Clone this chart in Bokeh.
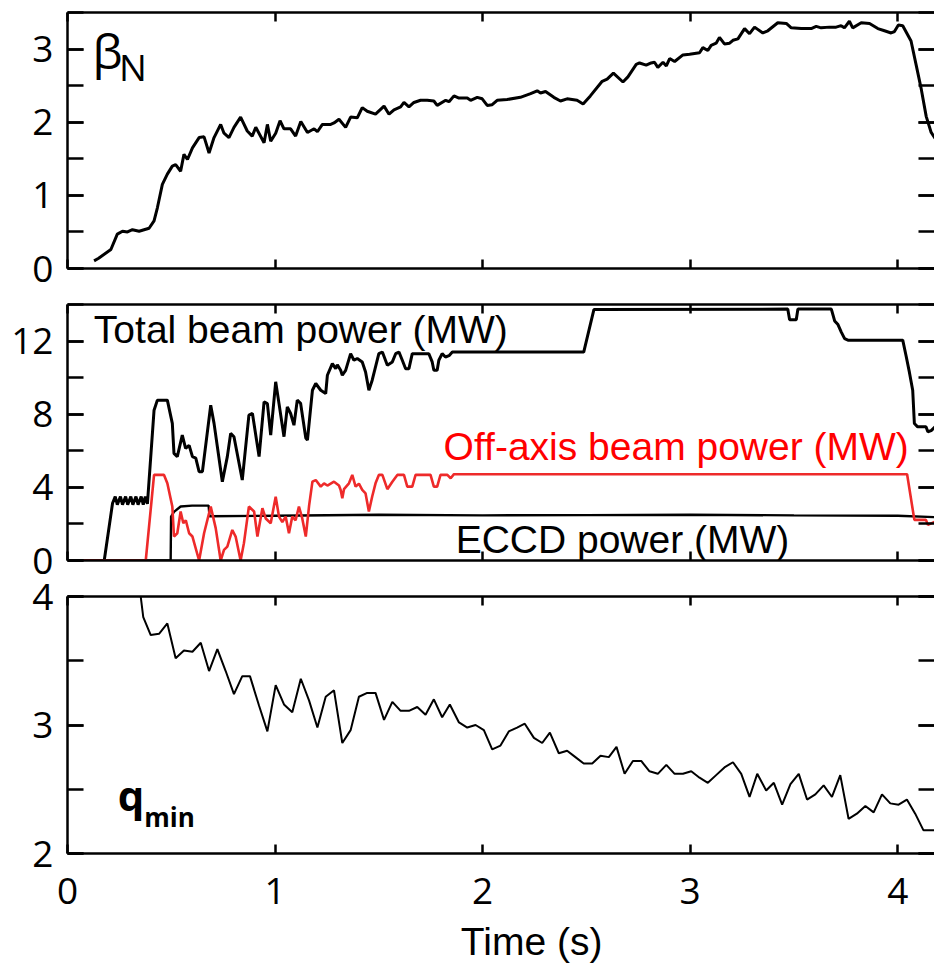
from bokeh.plotting import figure
from bokeh.models import LinearAxis, SingleIntervalTicker, Range1d, Label, CustomJSTickFormatter
from bokeh.layouts import column
from bokeh.embed import file_html
from bokeh.resources import INLINE

# ---------------- data ----------------
beta_t = [0.128, 0.15, 0.209, 0.24, 0.265, 0.289, 0.313, 0.345, 0.393, 0.417, 0.433, 0.457, 0.481, 0.505,
          0.521, 0.545, 0.561, 0.578, 0.602, 0.634, 0.658, 0.682, 0.706, 0.738, 0.754, 0.778, 0.802, 0.834,
          0.866, 0.890, 0.907, 0.947, 0.963, 0.979, 1.003, 1.024, 1.043, 1.075, 1.099, 1.124, 1.156, 1.188,
          1.204, 1.228, 1.268, 1.284, 1.308, 1.340, 1.364, 1.396, 1.420, 1.444, 1.484, 1.525, 1.549, 1.573,
          1.605, 1.621, 1.645, 1.669, 1.701, 1.733, 1.765, 1.781, 1.822, 1.838, 1.862, 1.886, 1.926, 1.942,
          1.974, 1.998, 2.022, 2.046, 2.070, 2.118, 2.182, 2.231, 2.263, 2.279, 2.303, 2.343, 2.375, 2.407,
          2.455, 2.484, 2.519, 2.576, 2.600, 2.630, 2.676, 2.700, 2.740, 2.756, 2.788, 2.812, 2.828, 2.844,
          2.869, 2.885, 2.901, 2.925, 2.965, 2.997, 3.021, 3.045, 3.061, 3.085, 3.101, 3.125, 3.141, 3.165,
          3.190, 3.206, 3.230, 3.262, 3.286, 3.310, 3.350, 3.374, 3.422, 3.463, 3.487, 3.535, 3.583, 3.607,
          3.631, 3.671, 3.703, 3.727, 3.743, 3.767, 3.783, 3.824, 3.864, 3.904, 3.936, 3.968, 3.984, 4.003,
          4.024, 4.064, 4.088, 4.112, 4.137, 4.161, 4.180]
beta_n = [0.105, 0.14, 0.26, 0.47, 0.51, 0.50, 0.53, 0.51, 0.55, 0.65, 0.83, 1.15, 1.29, 1.40,
          1.42, 1.33, 1.56, 1.49, 1.65, 1.79, 1.80, 1.58, 1.79, 1.97, 1.85, 1.79, 1.93, 2.07,
          1.88, 1.81, 1.93, 1.72, 1.97, 1.74, 1.85, 2.02, 1.91, 1.91, 1.81, 2.01, 1.86, 1.91,
          1.87, 1.97, 1.97, 1.99, 2.04, 1.93, 2.07, 2.06, 2.20, 2.15, 2.11, 2.22, 2.11, 2.17,
          2.21, 2.27, 2.21, 2.27, 2.30, 2.30, 2.29, 2.23, 2.30, 2.28, 2.36, 2.33, 2.33, 2.30,
          2.34, 2.32, 2.23, 2.24, 2.30, 2.31, 2.34, 2.39, 2.43, 2.40, 2.42, 2.34, 2.29, 2.32,
          2.30, 2.25, 2.36, 2.56, 2.59, 2.67, 2.55, 2.62, 2.79, 2.81, 2.78, 2.81, 2.82, 2.75,
          2.82, 2.77, 2.87, 2.83, 2.92, 2.93, 2.94, 2.95, 3.02, 2.98, 3.05, 3.08, 3.16, 3.07,
          3.08, 3.12, 3.14, 3.28, 3.21, 3.30, 3.22, 3.25, 3.36, 3.35, 3.29, 3.28, 3.28, 3.31,
          3.29, 3.30, 3.30, 3.32, 3.29, 3.38, 3.29, 3.36, 3.35, 3.28, 3.25, 3.22, 3.24, 3.33,
          3.32, 3.11, 2.79, 2.47, 2.08, 1.86, 1.78]

total_t = [0.0, 0.177, 0.217, 0.23, 0.24, 0.255, 0.265, 0.28, 0.29, 0.305, 0.315, 0.33, 0.34, 0.355,
           0.365, 0.375, 0.385, 0.417, 0.433, 0.481, 0.505, 0.513, 0.529, 0.553, 0.569, 0.586, 0.602,
           0.618, 0.634, 0.650, 0.690, 0.706, 0.746, 0.770, 0.786, 0.802, 0.842, 0.874, 0.891, 0.923,
           0.947, 0.963, 0.979, 1.003, 1.019, 1.043, 1.059, 1.075, 1.091, 1.107, 1.123, 1.148, 1.156,
           1.180, 1.196, 1.220, 1.244, 1.252, 1.276, 1.292, 1.300, 1.316, 1.324, 1.340, 1.364, 1.380,
           1.396, 1.420, 1.436, 1.452, 1.468, 1.484, 1.500, 1.517, 1.541, 1.565, 1.581, 1.597, 1.613,
           1.629, 1.645, 1.661, 1.741, 1.757, 1.765, 1.781, 1.789, 1.805, 1.821, 1.838, 1.854, 2.487,
           2.536, 3.470, 3.479, 3.511, 3.519, 3.680, 3.696, 3.712, 3.728, 3.744, 3.760, 4.024, 4.040,
           4.056, 4.072, 4.080, 4.096, 4.136, 4.145, 4.161, 4.180]
total_p = [0.0, 0.0, 3.13, 3.5, 3.05, 3.5, 3.05, 3.5, 3.05, 3.5, 3.05, 3.5, 3.05, 3.5,
           3.05, 3.5, 3.1, 8.22, 8.77, 8.77, 7.5, 5.86, 5.68, 6.86, 6.13, 6.3, 5.68,
           5.6, 4.86, 4.86, 8.49, 7.5, 4.31, 5.68, 6.95, 6.77, 4.40, 7.95, 8.04, 5.68,
           8.67, 8.58, 6.86, 9.77, 8.58, 6.77, 8.40, 8.04, 7.40, 8.77, 8.6, 6.7, 6.59,
           9.31, 9.68, 9.31, 9.13, 10.13, 10.77, 10.49, 10.7, 10.40, 10.13, 10.4, 11.31, 10.95,
           11.05, 10.86, 10.31, 9.31, 9.86, 10.59, 11.31, 11.40, 10.68, 10.86, 11.31, 11.4, 10.95,
           10.49, 10.49, 11.31, 11.31, 10.86, 10.40, 10.40, 10.95, 11.31, 11.13, 11.2, 11.4, 11.4,
           13.72, 13.75, 13.17, 13.17, 13.75, 13.75, 13.1, 12.9, 12.49, 12.13, 12.05, 12.05, 11.2,
           10.3, 9.31, 7.49, 7.31, 7.31, 7.04, 7.1, 7.31]

offaxis_t = [0.0, 0.377, 0.417, 0.465, 0.481, 0.505, 0.513, 0.529, 0.545, 0.558, 0.570, 0.586, 0.602,
             0.634, 0.658, 0.690, 0.714, 0.738, 0.754, 0.770, 0.794, 0.810, 0.834, 0.850, 0.874, 0.899,
             0.915, 0.939, 0.955, 0.979, 1.003, 1.019, 1.035, 1.051, 1.067, 1.083, 1.099, 1.115, 1.131,
             1.148, 1.164, 1.180, 1.196, 1.220, 1.236, 1.252, 1.284, 1.308, 1.316, 1.324, 1.332, 1.356,
             1.372, 1.388, 1.404, 1.420, 1.436, 1.452, 1.468, 1.484, 1.500, 1.517, 1.541, 1.565, 1.589,
             1.621, 1.637, 1.661, 1.677, 1.749, 1.765, 1.781, 1.797, 1.830, 1.846, 1.862, 4.045, 4.080,
             4.136, 4.145, 4.180]
offaxis_p = [0.0, 0.0, 4.68, 4.68, 4.22, 2.95, 1.31, 1.49, 2.68, 2.04, 2.2, 1.49, 1.31,
             0.0, 1.49, 2.95, 1.77, 0.0, 0.58, 0.76, 1.67, 1.31, 0.0, 0.95, 2.95, 2.68,
             1.31, 2.86, 2.3, 2.04, 3.49, 2.40, 2.1, 2.4, 1.49, 2.4, 2.2, 2.95, 2.3,
             1.31, 3.0, 4.31, 4.40, 4.04, 4.22, 4.1, 4.31, 4.1, 3.86, 3.4, 3.9, 4.22,
             4.68, 4.04, 4.2, 3.86, 3.67, 2.68, 3.5, 4.22, 4.68, 4.68, 3.90, 4.31, 4.68,
             4.68, 4.04, 4.04, 4.68, 4.68, 4.04, 4.04, 4.68, 4.68, 4.5, 4.72, 4.72, 2.22,
             2.22, 1.95, 2.13]

eccd_t = [0.0, 0.497, 0.499, 0.513, 0.545, 0.600, 0.680, 0.684, 1.0, 1.5, 2.0, 2.5, 3.0, 3.5, 4.0, 4.180]
eccd_p = [0.0, 0.0, 2.4, 2.66, 2.95, 3.0, 3.0, 2.42, 2.45, 2.5, 2.47, 2.48, 2.5, 2.47, 2.45, 2.37]

qmin_t = [0.345, 0.365, 0.401, 0.441, 0.481, 0.521, 0.561, 0.602, 0.642, 0.682, 0.722, 0.762, 0.802,
          0.842, 0.879, 0.923, 0.963, 1.003, 1.043, 1.083, 1.124, 1.164, 1.204, 1.244, 1.284, 1.324,
          1.364, 1.404, 1.444, 1.484, 1.525, 1.565, 1.605, 1.645, 1.685, 1.725, 1.765, 1.805, 1.842,
          1.886, 1.926, 1.966, 2.006, 2.046, 2.086, 2.126, 2.166, 2.203, 2.247, 2.287, 2.324, 2.367,
          2.407, 2.447, 2.487, 2.528, 2.568, 2.608, 2.645, 2.684, 2.724, 2.764, 2.804, 2.844, 2.885,
          2.925, 2.965, 3.005, 3.045, 3.085, 3.125, 3.165, 3.206, 3.246, 3.286, 3.323, 3.366, 3.403,
          3.443, 3.483, 3.523, 3.563, 3.603, 3.643, 3.683, 3.723, 3.763, 3.803, 3.844, 3.884, 3.924,
          3.964, 4.004, 4.044, 4.084, 4.124, 4.160, 4.180]
qmin_v = [4.1, 3.84, 3.70, 3.71, 3.79, 3.52, 3.58, 3.57, 3.64, 3.42, 3.59, 3.42, 3.24,
          3.38, 3.38, 3.15, 2.95, 3.31, 3.16, 3.10, 3.36, 3.19, 2.98, 3.22, 3.27, 2.86,
          2.96, 3.22, 3.25, 3.25, 3.04, 3.18, 3.11, 3.11, 3.14, 3.08, 3.20, 3.06, 3.16,
          3.02, 2.98, 3.00, 2.96, 2.81, 2.84, 2.95, 2.98, 3.01, 2.90, 2.86, 2.94, 2.78,
          2.80, 2.75, 2.70, 2.70, 2.76, 2.75, 2.83, 2.62, 2.72, 2.72, 2.64, 2.62, 2.69,
          2.62, 2.62, 2.64, 2.59, 2.55, 2.61, 2.67, 2.71, 2.62, 2.44, 2.62, 2.49, 2.55,
          2.38, 2.54, 2.62, 2.42, 2.46, 2.53, 2.44, 2.61, 2.27, 2.31, 2.37, 2.32, 2.46,
          2.39, 2.38, 2.42, 2.31, 2.18, 2.18, 2.18]

X_MAX = 4.177
TICK_FONT = "Open Sans"
TEXT_FONT = "Liberation Sans"
TEXT_SIZE = "39px"
LINE_RED = "#ee2a2a"


def style(ax, tick_len, labels):
    ax.major_tick_in = tick_len
    ax.major_tick_out = 0
    ax.minor_tick_in = tick_len
    ax.minor_tick_out = 0
    ax.axis_line_width = 2.5
    ax.major_tick_line_width = 2.5
    ax.minor_tick_line_width = 2.5
    ax.axis_line_color = "black"
    ax.major_tick_line_color = "black"
    ax.minor_tick_line_color = "black"
    ax.major_label_text_font = TICK_FONT
    ax.major_label_text_font_size = "37px"
    ax.major_label_text_color = "black"
    if not labels:
        ax.formatter = CustomJSTickFormatter(code="return ''")
        ax.major_label_standoff = 0


def panel(height, y0, y1, yint, top, bottom, xlabels):
    p = figure(width=934, height=height, x_range=Range1d(0, X_MAX), y_range=Range1d(y0, y1),
               output_backend="svg", toolbar_location=None,
               x_axis_location=None, y_axis_location=None,
               min_border_left=67, min_border_right=0, min_border_top=top, min_border_bottom=bottom)
    p.outline_line_color = None
    p.grid.visible = False
    p.background_fill_color = "white"
    p.border_fill_color = "white"

    left = LinearAxis(ticker=SingleIntervalTicker(interval=yint, num_minor_ticks=2))
    style(left, 16, True)
    left.major_label_standoff = 14
    p.add_layout(left, "left")

    right = LinearAxis(ticker=SingleIntervalTicker(interval=yint, num_minor_ticks=2))
    style(right, 16, False)
    right.axis_line_color = None
    p.add_layout(right, "right")

    below = LinearAxis(ticker=SingleIntervalTicker(interval=1, num_minor_ticks=0))
    style(below, 9, xlabels)
    if xlabels:
        below.major_label_standoff = 24
    p.add_layout(below, "below")

    above = LinearAxis(ticker=SingleIntervalTicker(interval=1, num_minor_ticks=0))
    style(above, 9, False)
    p.add_layout(above, "above")
    return p


# ---- panel 1: beta_N ----
p1 = panel(286, 0, 3.5, 1, 12, 18, False)
p1.line(beta_t, beta_n, line_color="black", line_width=3)
p1.add_layout(Label(x=0.12, y=2.98, text="β", text_font=TICK_FONT, text_font_size="48px",
                    text_color="black", text_baseline="alphabetic"))
p1.add_layout(Label(x=0.248, y=2.765, text="N", text_font=TICK_FONT, text_font_size="37px",
                    text_color="black", text_baseline="alphabetic"))

# ---- panel 2: powers ----
p2 = panel(292, 0, 14, 4, 18, 18, False)
p2.line(total_t, total_p, line_color="black", line_width=3)
p2.line(eccd_t, eccd_p, line_color="black", line_width=2.4)
p2.line(offaxis_t, offaxis_p, line_color=LINE_RED, line_width=2.6)
p2.add_layout(Label(x=0.127, y=12.62, text="Total beam power (MW)", text_font=TEXT_FONT,
                    text_font_size=TEXT_SIZE, text_color="black", text_baseline="alphabetic"))
p2.add_layout(Label(x=1.812, y=6.24, text="Off-axis beam power (MW)", text_font=TEXT_FONT,
                    text_font_size=TEXT_SIZE, text_color="#ff0000", text_baseline="alphabetic"))
p2.add_layout(Label(x=1.87, y=1.15, text="ECCD power (MW)", text_font=TEXT_FONT,
                    text_font_size=TEXT_SIZE, text_color="black", text_baseline="alphabetic"))

# ---- panel 3: q_min ----
p3 = panel(347, 2, 4, 1, 18, 72, True)
p3.line(qmin_t, qmin_v, line_color="black", line_width=2)
p3.add_layout(Label(x=0.242, y=2.463, text="q", text_font=TICK_FONT, text_font_size="42px",
                    text_font_style="bold", text_color="black", text_baseline="alphabetic"))
p3.add_layout(Label(x=0.37, y=2.287, text="min", text_font=TICK_FONT, text_font_size="26px",
                    text_font_style="bold", text_color="black", text_baseline="alphabetic"))

# ---- x-axis title strip ----
p4 = figure(width=934, height=42, x_range=Range1d(0, X_MAX), y_range=Range1d(0, 1),
            output_backend="svg", toolbar_location=None,
            x_axis_location=None, y_axis_location=None,
            min_border_left=67, min_border_right=0, min_border_top=0, min_border_bottom=0)
p4.outline_line_color = None
p4.grid.visible = False
p4.add_layout(Label(x=2.236, y=0.62, text="Time (s)", text_font=TEXT_FONT, text_font_size=TEXT_SIZE,
                    text_color="black", text_align="center", text_baseline="alphabetic"))

layout = column(p1, p2, p3, p4, spacing=0)
open("out.html", "w").write(file_html(layout, INLINE))
